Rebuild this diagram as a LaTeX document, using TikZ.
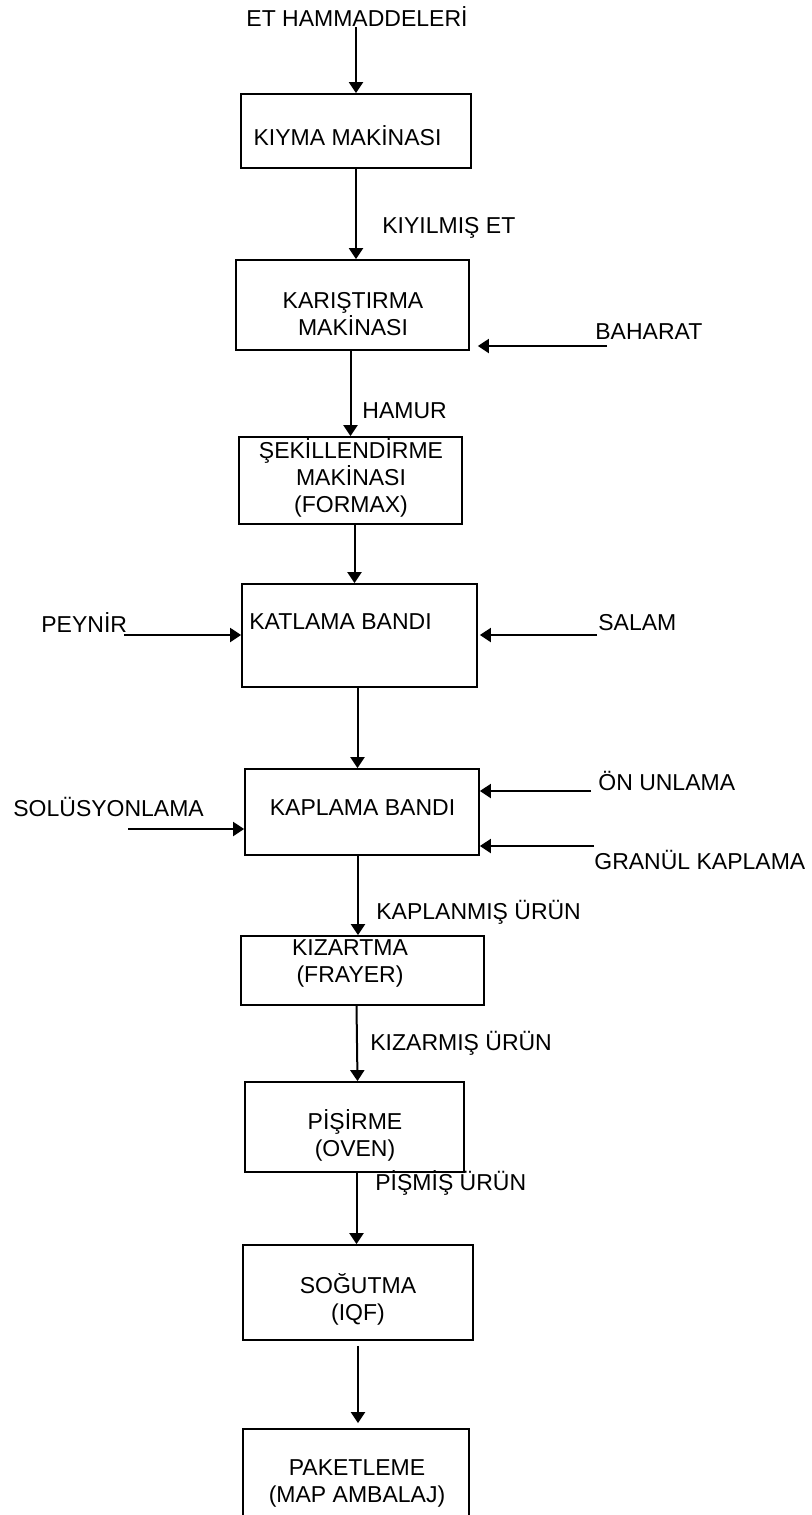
\documentclass[tikz,border=0pt]{standalone}
\usepackage{fontspec}
\setmainfont{Liberation Sans}
\usetikzlibrary{arrows.meta,positioning}
\newcommand{\flowfont}{\fontsize{11.5}{13.5}\selectfont}

\begin{document}
\begin{tikzpicture}[x=0.5pt,y=-0.5pt,
  box/.style={draw,line width=0.9pt,inner sep=0pt},
  txt/.style={inner sep=0pt,align=center,font=\flowfont},
  side/.style={txt,anchor=west},
  flow/.style={line width=1pt,-{Triangle[length=5.5pt,width=7pt]}}]
\useasboundingbox (0,0) rectangle (812,1515);
% raw meat + mincer
\node[txt] (etham) at (357,17) {ET HAMMADDELER\.I};
\node[box,minimum width=115pt,minimum height=37pt] (kiyma) at (356,131) {};
\node[txt] (kiymaT) at (347.5,136) {KIYMA MAK\.INASI};
\draw[flow] (etham.south -| kiyma.north) -- (kiyma.north);
% mixer
\node[box,minimum width=116.5pt,minimum height=45pt] (karis) at (352.5,305) {};
\node[txt] (karisT) at (353,314) {KARIŞTIRMA\\MAK\.INASI};
\draw[flow] (kiyma.south) -- (kiyma.south |- karis.north);
\node[side] (kiyilmis) at (382,228) {KIYILMIŞ ET};
\node[side] (baharat) at (595,332) {BAHARAT};
\coordinate (baharatA) at (607,346);
\draw[flow] (baharatA) -- ([xshift=4pt]baharatA -| karis.east);
% forming
\node[box,minimum width=111.5pt,minimum height=43.5pt] (sekil) at (350.5,480.5) {};
\node[txt] (sekilT) at (351,478) {ŞEK\.ILLEND\.IRME\\MAK\.INASI\\(FORMAX)};
\draw[flow] (karis.south -| sekil.north) -- (sekil.north);
\node[side] (hamur) at (362,411) {HAMUR};
% folding belt
\node[box,minimum width=117.5pt,minimum height=51.5pt] (katlama) at (359.5,635.5) {};
\node[txt] (katlamaT) at (340.5,622) {KATLAMA BANDI};
\draw[flow] ([xshift=2pt]sekil.south) -- ([xshift=2pt]sekil.south |- katlama.north);
\node[side] (peynir) at (41,623) {PEYN\.IR};
\node[side] (salam) at (598,623) {SALAM};
\coordinate (peynirA) at (124,635);
\coordinate (salamA) at (597,635);
\draw[flow] (peynirA) -- (peynirA -| katlama.west);
\draw[flow] (salamA) -- ([xshift=1pt]salamA -| katlama.east);
% coating belt
\node[box,minimum width=117pt,minimum height=43pt] (kaplama) at (362,812) {};
\node[txt] (kaplamaT) at (362.5,808) {KAPLAMA BANDI};
\draw[flow] ([xshift=-1pt]katlama.south) -- ([xshift=-1pt]katlama.south |- kaplama.north);
\node[side] (onunlama) at (598,781) {ÖN UNLAMA};
\node[side] (solusyon) at (13,807) {SOLÜSYONLAMA};
\node[side] (granul) at (594,860) {GRANÜL KAPLAMA};
\coordinate (onunlamaA) at (591,791);
\coordinate (solusyonA) at (128,829);
\coordinate (granulA) at (594,846);
\draw[flow] (onunlamaA) -- (onunlamaA -| kaplama.east);
\draw[flow] (solusyonA) -- (solusyonA -| kaplama.west);
\draw[flow] (granulA) -- (granulA -| kaplama.east);
% frying
\node[box,minimum width=121.5pt,minimum height=34.5pt] (kizartma) at (362.5,970.5) {};
\node[txt] (kizartmaT) at (350,963.5) {KIZARTMA\\(FRAYER)};
\draw[flow] ([xshift=-2pt]kaplama.south) -- ([xshift=-2pt]kaplama.south |- kizartma.north);
\node[side] (kaplanmis) at (376,912) {KAPLANMIŞ ÜRÜN};
% oven
\node[box,minimum width=109.5pt,minimum height=45pt] (pisirme) at (354.5,1127) {};
\node[txt] (pisirmeT) at (355,1135.5) {P\.IŞ\.IRME\\(OVEN)};
\draw[flow] ([xshift=1pt]kizartma.south -| pisirme.north) -- ([xshift=1.5pt]pisirme.north);
\node[side] (kizarmis) at (370,1043) {KIZARMIŞ ÜRÜN};
% cooling
\node[box,minimum width=115pt,minimum height=47.5pt] (sogutma) at (358,1292.5) {};
\node[txt] (sogutmaT) at (358,1299.5) {SOĞUTMA\\(IQF)};
\draw[flow] ([xshift=1pt]pisirme.south) -- ([xshift=1pt]pisirme.south |- sogutma.north);
\node[side] (pismis) at (375,1183) {P\.IŞM\.IŞ ÜRÜN};
% packing
\node[box,minimum width=113pt,minimum height=55pt] (paket) at (356,1484) {};
\node[txt] (paketT) at (357,1483.5) {PAKETLEME\\(MAP AMBALAJ)};
\draw[flow] ([yshift=-2.5pt]sogutma.south) -- ([yshift=2.5pt]sogutma.south |- paket.north);
\end{tikzpicture}
\end{document}
